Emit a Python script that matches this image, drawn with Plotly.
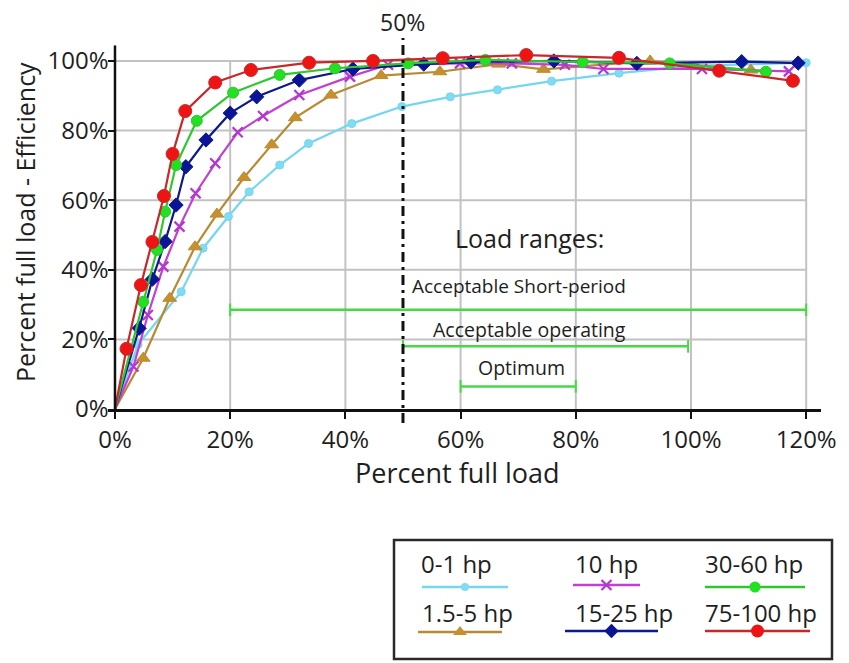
import plotly.graph_objects as go

# ---- data: percent of full load vs efficiency (as % of full-load efficiency) ----
load_0_1 = [0, 4, 11.5, 15.3, 19.7, 23.3, 28.6, 33.6, 41.1, 49.8, 58.2, 66.4, 75.8, 87.5, 100.3, 120]
eff_0_1 = [0, 18.5, 33.7, 46.2, 55.3, 62.4, 70.1, 76.3, 82, 86.9, 89.7, 91.7, 94.2, 96.5, 98.6, 99.5]

load_1_5 = [0, 4.9, 9.5, 13.9, 17.7, 22.4, 27.2, 31.3, 37.5, 46.2, 56.4, 66.6, 74.4, 92.9, 110.4]
eff_1_5 = [0, 14.6, 31.8, 46.6, 56, 66.5, 75.9, 83.7, 90.2, 95.8, 96.9, 99.1, 97.6, 100, 97.4]

load_10 = [0, 3.2, 5.7, 8.4, 11.2, 14, 17.4, 21.3, 25.7, 32, 40.8, 47.4, 59.9, 68.9, 78.1, 84.8, 101.9, 117]
eff_10 = [0, 12.2, 27, 40.9, 52.4, 62, 70.6, 79.5, 84.2, 90.2, 95.5, 98.9, 99.3, 99.3, 98.9, 97.7, 97.7, 97]

load_15_25 = [0, 4.2, 6.5, 8.7, 10.6, 12.3, 15.8, 20, 24.6, 32, 41.3, 53.6, 61.8, 76.2, 90.6, 108.8, 118.6]
eff_15_25 = [0, 23.2, 37.3, 48.1, 58.6, 69.6, 77.3, 85, 89.7, 94.5, 97.7, 99.1, 99.7, 100, 99.3, 99.8, 99.4]

load_30_60 = [0, 4.9, 7.3, 8.7, 10.6, 14.2, 20.5, 28.6, 38.2, 50.9, 64.3, 81.2, 96.3, 113]
eff_30_60 = [0, 30.8, 45.7, 56.7, 70.1, 82.8, 90.9, 96, 97.9, 99.3, 100.3, 99.7, 99.3, 96.9]

load_75_100 = [0, 2, 4.5, 6.5, 8.5, 10, 12.2, 17.4, 23.6, 33.7, 44.8, 56.9, 71.4, 87.5, 104.9, 117.7]
eff_75_100 = [0, 17.3, 35.6, 48, 61.2, 73.3, 85.6, 93.8, 97.4, 99.5, 100, 100.8, 101.7, 100.9, 97.2, 94.3]

# load ranges: (label, start %, end %, level on the chart)
range_labels = ["Acceptable Short-period", "Acceptable operating", "Optimum"]
range_start = [20, 50, 60]
range_end = [120, 99.5, 80]
range_level = [28.5, 18, 6.5]

x_ticks = [0, 20, 40, 60, 80, 100, 120]
y_ticks = [0, 20, 40, 60, 80, 100]

series = [
    # name, x, y, line colour, marker colour, symbol, size
    ("0-1 hp", load_0_1, eff_0_1, "#74d6ef", "#7fdcf2", "circle", 8),
    ("1.5-5 hp", load_1_5, eff_1_5, "#b98a33", "#c8902c", "triangle-up", 12),
    ("10 hp", load_10, eff_10, "#c23fd6", "#b535d0", "x-thin", 10),
    ("15-25 hp", load_15_25, eff_15_25, "#0d1a8a", "#0a1496", "diamond", 11),
    ("30-60 hp", load_30_60, eff_30_60, "#2ec82e", "#22e022", "circle", 11),
    ("75-100 hp", load_75_100, eff_75_100, "#c8282a", "#ee1414", "circle", 13),
]

W, H = 849, 663
FONT = "Open Sans"
INK = "#1e1e1e"
GRID = "#c2c2c2"
RANGE_GREEN = "#46d846"

fig = go.Figure()

for name, xs, ys, lc, mc, sym, sz in series:
    # every curve starts at the origin, which carries no symbol
    sizes = [0 if (x == 0 and y == 0) else sz for x, y in zip(xs, ys)]
    marker = dict(color=mc, size=sizes, symbol=sym, opacity=1)
    if sym == "x-thin":
        marker["line"] = dict(color=mc, width=2.2)
    fig.add_trace(go.Scatter(
        x=xs, y=ys, name=name, mode="lines+markers",
        line=dict(color=lc, width=2.2), marker=marker,
        xaxis="x", yaxis="y", cliponaxis=False,
    ))

# load range bars with end caps
for lab, a, b, lvl in zip(range_labels, range_start, range_end, range_level):
    fig.add_trace(go.Scatter(
        x=[a, b], y=[lvl, lvl], mode="lines+markers",
        line=dict(color=RANGE_GREEN, width=2.5),
        marker=dict(symbol="line-ns", size=9, line=dict(color=RANGE_GREEN, width=2)),
        xaxis="x", yaxis="y", cliponaxis=False, showlegend=False,
    ))

shapes = []
# grid confined to 0-120 x 0-100
for v in y_ticks[1:]:
    shapes.append(dict(type="line", xref="x", yref="y", x0=0, x1=120, y0=v, y1=v,
                       line=dict(color=GRID, width=2), layer="below"))
for v in x_ticks[1:]:
    shapes.append(dict(type="line", xref="x", yref="y", x0=v, x1=v, y0=0, y1=100,
                       line=dict(color=GRID, width=2), layer="below"))
# vertical axis line at x = 0
shapes.append(dict(type="line", xref="x", yref="y", x0=0, x1=0, y0=0, y1=104.5,
                   line=dict(color="#111111", width=2.5)))
# 50% reference line
shapes.append(dict(type="line", xref="x", yref="paper",
                   x0=50, x1=50, y0=1 - 423 / H, y1=1 - 38 / H,
                   line=dict(color="#111111", width=3, dash="10px,5px,3px,5px")))

annotations = [
    dict(text="50%", x=50, xref="x", y=1 - 22 / H, yref="paper", showarrow=False,
         font=dict(size=23, color=INK), xanchor="center", yanchor="middle"),
    dict(text="Load ranges:", x=72, y=49, xref="x", yref="y", showarrow=False,
         font=dict(size=25, color=INK), xanchor="center", yanchor="middle"),
    dict(text=range_labels[0], x=51.2, y=35.3, xref="x", yref="y", showarrow=False,
         font=dict(size=19, color=INK), xanchor="left", yanchor="middle"),
    dict(text=range_labels[1], x=72, y=22.8, xref="x", yref="y", showarrow=False,
         font=dict(size=19.5, color=INK), xanchor="center", yanchor="middle"),
    dict(text=range_labels[2], x=70.5, y=11.8, xref="x", yref="y", showarrow=False,
         font=dict(size=19.5, color=INK), xanchor="center", yanchor="middle"),
    dict(text="Percent full load", x=458 / W, y=1 - 472 / H, xref="paper", yref="paper",
         showarrow=False, font=dict(size=27, color=INK), xanchor="center", yanchor="middle"),
    dict(text="Percent full load - Efficiency", x=25 / W, y=1 - 222 / H, xref="paper",
         yref="paper", showarrow=False, textangle=-90,
         font=dict(size=25, color=INK), xanchor="center", yanchor="middle"),
]

# ---- key box below the chart, drawn in its own small axes (pixel coordinates) ----
box = (394, 540, 832, 659)
shapes.append(dict(type="rect", xref="paper", yref="paper",
                   x0=box[0] / W, x1=box[2] / W, y0=1 - box[3] / H, y1=1 - box[1] / H,
                   line=dict(color="#2a2a2a", width=2.5), layer="above"))

key_slots = {
    "0-1 hp": (419, 563, 422, 508, 587),
    "10 hp": (573, 563, 573, 640, 585),
    "30-60 hp": (703, 563, 705, 805, 587),
    "1.5-5 hp": (420, 612, 418, 502, 632),
    "15-25 hp": (573, 612, 565, 658, 631),
    "75-100 hp": (703, 612, 705, 810, 631),
}
for name, xs, ys, lc, mc, sym, sz in series:
    tx, ty, l0, l1, ly = key_slots[name]
    marker = dict(color=mc, size=sz, symbol=sym, opacity=1)
    if sym == "x-thin":
        marker["line"] = dict(color=mc, width=2.2)
    fig.add_trace(go.Scatter(
        x=[l0, (l0 + l1) / 2, l1], y=[ly, ly, ly], mode="lines",
        line=dict(color=lc, width=2.5), xaxis="x2", yaxis="y2", showlegend=False,
        hoverinfo="skip",
    ))
    fig.add_trace(go.Scatter(
        x=[(l0 + l1) / 2], y=[ly], mode="markers", marker=marker,
        xaxis="x2", yaxis="y2", showlegend=False, cliponaxis=False, hoverinfo="skip",
    ))
    annotations.append(dict(text=name, x=tx, y=ty, xref="x2", yref="y2", showarrow=False,
                            font=dict(size=24, color=INK), xanchor="left", yanchor="middle"))

fig.update_layout(
    width=W, height=H,
    margin=dict(l=0, r=0, t=0, b=0),
    paper_bgcolor="white", plot_bgcolor="rgba(0,0,0,0)",
    showlegend=False,
    font=dict(family=FONT, color=INK),
    xaxis=dict(
        domain=[107.5 / W, 820.6 / W], range=[-1.3, 122.5], anchor="y",
        showgrid=False, zeroline=False,
        showline=True, linecolor="#111111", linewidth=2.5,
        ticks="outside", ticklen=7, tickwidth=2, tickcolor="#111111",
        tickvals=x_ticks, ticktext=[f"{v}%" for v in x_ticks],
        tickfont=dict(size=24, color=INK, family=FONT),
        automargin=False,
    ),
    yaxis=dict(
        domain=[1 - 409 / H, 1 - 45.3 / H], range=[0, 104.5], anchor="x",
        showgrid=False, zeroline=False, showline=False,
        ticks="inside", ticklen=7, tickwidth=2, tickcolor="#111111",
        tickvals=y_ticks, ticktext=[f"{v}%" for v in y_ticks],
        tickfont=dict(size=24, color=INK, family=FONT),
        ticklabelstandoff=-2,
        automargin=False,
    ),
    xaxis2=dict(domain=[box[0] / W, box[2] / W], range=[box[0], box[2]], anchor="y2",
                visible=False, fixedrange=True),
    yaxis2=dict(domain=[1 - box[3] / H, 1 - box[1] / H], range=[box[3], box[1]], anchor="x2",
                visible=False, fixedrange=True),
    shapes=shapes,
    annotations=annotations,
)

fig.write_html("out.html")
